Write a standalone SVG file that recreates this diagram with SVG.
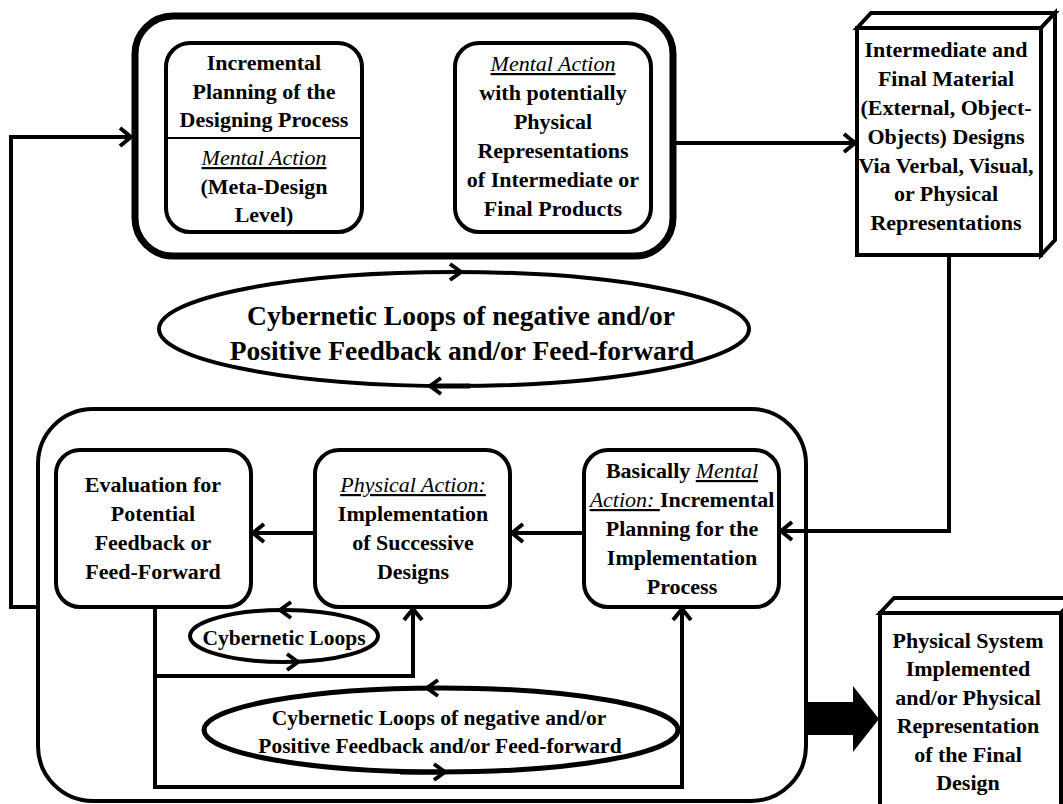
<svg xmlns="http://www.w3.org/2000/svg" width="1063" height="804" viewBox="0 0 1063 804">
<style>
text{font-family:"Liberation Serif","Times New Roman",serif;font-weight:bold;font-size:22px;fill:#000;text-anchor:middle}
.it{font-style:italic;font-weight:normal;text-decoration:underline}
.box{fill:#fff;stroke:#000;stroke-width:4}
.ln{fill:none;stroke:#000;stroke-width:4}
.hd{fill:none;stroke:#000;stroke-width:4;stroke-linecap:butt;stroke-linejoin:miter}
.big{font-size:27.5px}
.mid{font-size:21.5px}
</style>
<defs>
<marker id="ah" markerUnits="userSpaceOnUse" markerWidth="20" markerHeight="24" refX="13" refY="11" orient="auto" overflow="visible">
<path d="M2,2 L13,11 L2,20" fill="none" stroke="#000" stroke-width="4"/>
</marker>
</defs>

<g id="connectors">
<path class="ln" d="M38,607 H11 V137 H131" marker-end="url(#ah)"/>
<path class="ln" d="M362,96 H453" marker-end="url(#ah)"/>
<path class="ln" d="M455,196 H364" marker-end="url(#ah)"/>
<path class="ln" d="M676,143 H855" marker-end="url(#ah)"/>
<path class="ln" d="M949,255 V531 H781" marker-end="url(#ah)"/>
<path class="ln" d="M584,533 H512" marker-end="url(#ah)"/>
<path class="ln" d="M315,533 H253" marker-end="url(#ah)"/>
<path class="ln" d="M155,607 V787 H682 V609" marker-end="url(#ah)"/>
<path class="ln" d="M155,676 H413 V609" marker-end="url(#ah)"/>
<polygon points="806,702 853,702 853,686 879,719 853,752 853,735 806,735" fill="#000"/>
</g>

<g id="top-group">
<rect x="135" y="16" width="538" height="240" rx="38" fill="#fff" stroke="#000" stroke-width="7"/>
</g>

<g id="node-incremental-planning">
<rect class="box" x="166" y="43" width="196" height="189" rx="24"/>
<line x1="166" y1="138" x2="362" y2="138" stroke="#000" stroke-width="2"/>
<text x="264" y="70">Incremental</text>
<text x="264" y="99">Planning of the</text>
<text x="264" y="127">Designing Process</text>
<text x="264" y="165" class="it">Mental Action</text>
<text x="264" y="194">(Meta-Design</text>
<text x="264" y="222">Level)</text>
</g>

<g id="node-mental-action">
<rect class="box" x="455" y="43" width="196" height="189" rx="24"/>
<text x="553" y="71" class="it">Mental Action</text>
<text x="553" y="100">with potentially</text>
<text x="553" y="129">Physical</text>
<text x="553" y="158">Representations</text>
<text x="553" y="187">of Intermediate or</text>
<text x="553" y="216">Final Products</text>
</g>

<g id="node-intermediate-final">
<polygon class="box" points="857,28 871,13 1055,13 1041,28"/>
<polygon class="box" points="1041,28 1055,13 1055,240 1041,255"/>
<rect class="box" x="857" y="28" width="184" height="227"/>
<text x="946" y="57">Intermediate and</text>
<text x="946" y="86">Final Material</text>
<text x="946" y="115">(External, Object-</text>
<text x="946" y="144">Objects) Designs</text>
<text x="946" y="173">Via Verbal, Visual,</text>
<text x="946" y="201">or Physical</text>
<text x="946" y="230">Representations</text>
</g>

<g id="node-cybernetic-main">
<ellipse cx="454" cy="329" rx="295" ry="57" fill="#fff" stroke="#000" stroke-width="4"/>
<path class="hd" d="M450,264 L461,272 L450,280"/>
<path class="hd" d="M441,378 L430,386 L441,394"/>
<line x1="432" y1="386" x2="470" y2="386" stroke="#000" stroke-width="5"/>
<text x="461" y="325" class="big">Cybernetic Loops of negative and/or</text>
<text x="462" y="360" class="big">Positive Feedback and/or Feed-forward</text>
</g>

<g id="implementation-group">
<rect x="38" y="409" width="768" height="392" rx="55" fill="none" stroke="#000" stroke-width="4"/>
</g>

<g id="node-evaluation">
<rect class="box" x="56" y="450" width="195" height="157" rx="24"/>
<text x="153" y="492">Evaluation for</text>
<text x="153" y="521">Potential</text>
<text x="153" y="550">Feedback or</text>
<text x="153" y="579">Feed-Forward</text>
</g>

<g id="node-physical-action">
<rect class="box" x="315" y="450" width="195" height="157" rx="24"/>
<text x="413" y="492" class="it">Physical Action:</text>
<text x="413" y="521">Implementation</text>
<text x="413" y="550">of  Successive</text>
<text x="413" y="579">Designs</text>
</g>

<g id="node-basically-mental">
<rect class="box" x="584" y="450" width="195" height="157" rx="24"/>
<text x="682" y="478">Basically <tspan class="it">Mental</tspan></text>
<text x="682" y="507"><tspan class="it">Action: </tspan>Incremental</text>
<text x="682" y="536">Planning for the</text>
<text x="682" y="565">Implementation</text>
<text x="682" y="594">Process</text>
</g>

<g id="node-cybernetic-small">
<ellipse cx="284" cy="636" rx="94" ry="26" fill="#fff" stroke="#000" stroke-width="4"/>
<path class="hd" d="M291,602 L280,610 L291,618"/>
<path class="hd" d="M287,654 L298,662 L287,670"/>
<text x="284" y="645" class="mid">Cybernetic Loops</text>
</g>

<g id="node-cybernetic-lower">
<ellipse cx="441" cy="730" rx="237" ry="42" fill="#fff" stroke="#000" stroke-width="5"/>
<path class="hd" d="M438,680 L427,688 L438,696"/>
<path class="hd" d="M434,764 L445,772 L434,780"/>
<line x1="400" y1="772" x2="443" y2="772" stroke="#000" stroke-width="5"/>
<text x="439" y="725" class="mid">Cybernetic Loops of negative and/or</text>
<text x="440" y="753" class="mid">Positive Feedback and/or Feed-forward</text>
</g>

<g id="node-physical-system">
<polygon class="box" points="880,613 894,598 1075,598 1061,613"/>
<polygon class="box" points="1061,613 1075,598 1075,800 1061,815"/>
<rect class="box" x="880" y="613" width="181" height="200"/>
<text x="968" y="648">Physical System</text>
<text x="968" y="676">Implemented</text>
<text x="968" y="705">and/or Physical</text>
<text x="968" y="733">Representation</text>
<text x="968" y="762">of the Final</text>
<text x="968" y="790">Design</text>
</g>
</svg>
